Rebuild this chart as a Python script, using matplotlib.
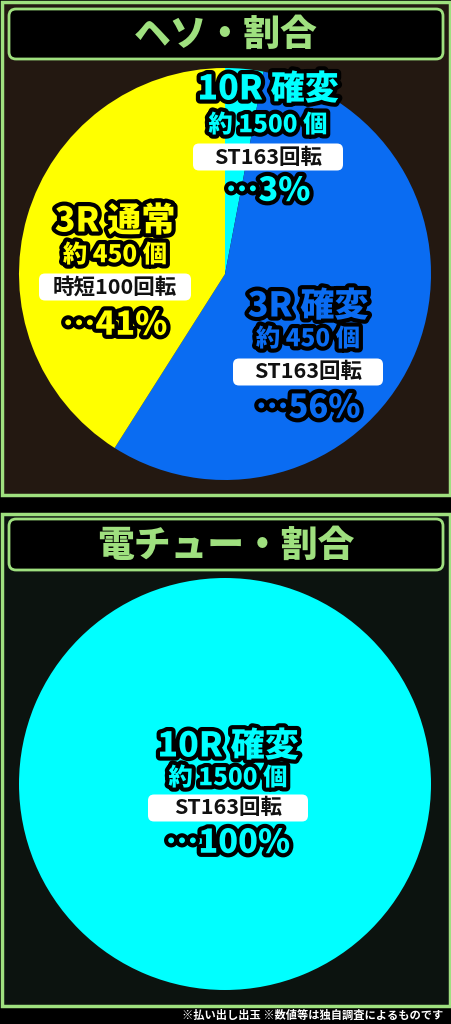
import matplotlib
matplotlib.use("Agg")
import matplotlib.pyplot as plt
from matplotlib.patches import Rectangle, FancyBboxPatch
import matplotlib.patheffects as pe

plt.rcParams['font.family'] = ['Noto Sans CJK JP', 'DejaVu Sans']

# ---------------- data ----------------
heso_labels = ["10R 確変", "3R 確変", "3R 通常"]
heso_counts = ["約 1500 個", "約 450 個", "約 450 個"]
heso_sub = ["ST163回転", "ST163回転", "時短100回転"]
heso_values = [3, 56, 41]
heso_colors = ["#00ffff", "#0a6cf2", "#ffff00"]

den_labels = ["10R 確変"]
den_counts = ["約 1500 個"]
den_sub = ["ST163回転"]
den_values = [100]
den_colors = ["#00ffff"]

titles = ["ヘソ・割合", "電チュー・割合"]
footer = "※払い出し出玉 ※数値等は独自調査によるものです"

# ---------------- layout ----------------
W, H = 451, 1024
GREEN = "#9fe07f"
fig = plt.figure(figsize=(W / 100, H / 100), dpi=100)
fig.patch.set_facecolor("black")
ax = fig.add_axes([0, 0, 1, 1])
ax.set_facecolor("black")


def Y(y):
    return H - y


# panels
panels = [(0, 495, "#231811"), (512, 1006, "#0c130f")]
for (y0, y1, bg) in panels:
    ax.add_patch(Rectangle((1.5, Y(y1)), W - 3, y1 - y0 - 1.5, facecolor=bg,
                           edgecolor=GREEN, linewidth=2.5, zorder=1))

# title boxes
title_boxes = [(9, 59), (519, 570)]
for (y0, y1), t in zip(title_boxes, titles):
    ax.add_patch(FancyBboxPatch((9, Y(y1)), 434, y1 - y0,
                                boxstyle="round,pad=0,rounding_size=7",
                                facecolor="black", edgecolor=GREEN,
                                linewidth=2.0, zorder=2))
    ax.text(225.5, Y((y0 + y1) / 2 + 1), t, color=GREEN, fontsize=26.5,
            fontweight="black", ha="center", va="center", zorder=3)

# pies
R = 206
ax.pie(heso_values, colors=heso_colors, startangle=90, counterclock=False,
       center=(225, Y(274)), radius=R, frame=True,
       wedgeprops=dict(linewidth=0))
ax.pie(den_values, colors=den_colors, startangle=90, counterclock=False,
       center=(225, Y(784)), radius=R, frame=True,
       wedgeprops=dict(linewidth=0))

ax.set_xlim(0, W)
ax.set_ylim(0, H)
ax.set_aspect("auto")
ax.axis("off")

stroke = [pe.withStroke(linewidth=6, foreground="black")]


def label_block(cx, ys, label, count, sub, value, color, box_w):
    y_lab, y_cnt, y_box, y_pct = ys
    ax.text(cx, Y(y_lab), label, color=color, fontsize=24.5, fontweight="black",
            ha="center", va="center", path_effects=stroke, zorder=5)
    ax.text(cx, Y(y_cnt), count, color=color, fontsize=17.5, fontweight="black",
            ha="center", va="center", path_effects=stroke, zorder=5)
    ax.add_patch(FancyBboxPatch((cx - box_w / 2, Y(y_box + 13.5)), box_w, 27,
                                boxstyle="round,pad=0,rounding_size=6",
                                facecolor="white", edgecolor="none", zorder=4))
    ax.text(cx, Y(y_box), sub, color="#111111", fontsize=15.5, fontweight="bold",
            ha="center", va="center", zorder=5)
    ax.text(cx, Y(y_pct), "…" + f"{value}%", color=color, fontsize=23.5,
            fontweight="black", ha="center", va="center", path_effects=stroke,
            zorder=5)


heso_pos = [(268, (89, 125, 157, 191), 150),
            (308, (306, 339, 372, 408), 150),
            (115, (221, 255, 287, 325), 152)]
for i, (cx, ys, bw) in enumerate(heso_pos):
    label_block(cx, ys, heso_labels[i], heso_counts[i], heso_sub[i],
                heso_values[i], heso_colors[i], bw)

den_pos = [(228, (746, 778, 808, 843), 160)]
for i, (cx, ys, bw) in enumerate(den_pos):
    label_block(cx, ys, den_labels[i], den_counts[i], den_sub[i],
                den_values[i], den_colors[i], bw)

ax.text(443, Y(1015), footer, color="white", fontsize=8.1, fontweight="bold",
        ha="right", va="center", zorder=5)

fig.savefig("out.png", dpi=100, facecolor=fig.get_facecolor())
